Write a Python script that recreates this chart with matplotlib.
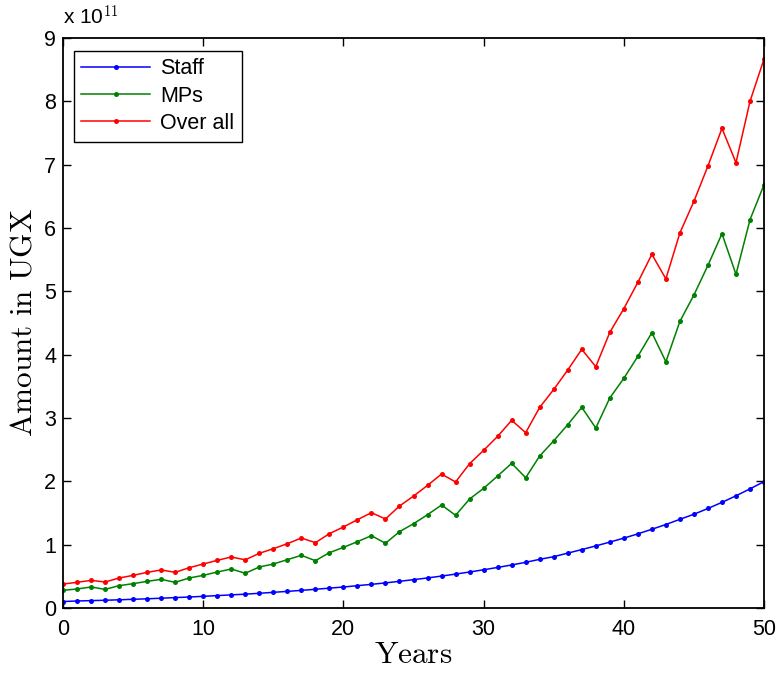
import matplotlib
matplotlib.use("Agg")
import matplotlib.pyplot as plt

# Data (values in units of 1e11 UGX)
years = list(range(0, 51))

staff = [0.102, 0.110, 0.116, 0.122, 0.129, 0.137, 0.145, 0.154, 0.164, 0.173,
         0.184, 0.195, 0.207, 0.218, 0.232, 0.247, 0.262, 0.278, 0.295, 0.313,
         0.331, 0.352, 0.373, 0.396, 0.421, 0.447, 0.474, 0.504, 0.535, 0.568,
         0.603, 0.640, 0.679, 0.721, 0.768, 0.810, 0.866, 0.922, 0.980, 1.040,
         1.103, 1.170, 1.243, 1.318, 1.400, 1.480, 1.571, 1.668, 1.771, 1.881,
         1.995]

mps = [0.278, 0.300, 0.331, 0.294, 0.352, 0.384, 0.420, 0.452, 0.405, 0.473,
       0.515, 0.568, 0.615, 0.548, 0.647, 0.694, 0.763, 0.831, 0.747, 0.873,
       0.957, 1.047, 1.142, 1.021, 1.205, 1.330, 1.473, 1.626, 1.463, 1.721,
       1.889, 2.084, 2.284, 2.057, 2.400, 2.640, 2.894, 3.168, 2.842, 3.316,
       3.626, 3.973, 4.347, 3.887, 4.526, 4.942, 5.410, 5.910, 5.268, 6.131,
       6.684]

overall = [0.378, 0.405, 0.436, 0.410, 0.473, 0.515, 0.563, 0.600, 0.563, 0.636,
           0.694, 0.752, 0.805, 0.760, 0.863, 0.936, 1.015, 1.105, 1.031, 1.173,
           1.279, 1.394, 1.505, 1.405, 1.610, 1.766, 1.936, 2.115, 1.989, 2.279,
           2.489, 2.710, 2.963, 2.768, 3.168, 3.450, 3.758, 4.084, 3.810, 4.352,
           4.726, 5.142, 5.584, 5.197, 5.923, 6.421, 6.979, 7.573, 7.031, 8.000,
           8.668]

labels = ["Staff", "MPs", "Over all"]
colors = ["#0000ff", "#008000", "#ff0000"]
xticks = [0, 10, 20, 30, 40, 50]
yticks = list(range(0, 10))

plt.rcParams['mathtext.fontset'] = 'cm'
plt.rcParams['font.family'] = ['Liberation Sans', 'DejaVu Sans']

fig = plt.figure(figsize=(7.77, 6.75), dpi=100)
ax = fig.add_axes([0.0811, 0.0993, 0.9022, 0.8444])

for series, lab, col in zip([staff, mps, overall], labels, colors):
    ax.plot(years, series, color=col, lw=1.1, marker='o', ms=3.6,
            markeredgewidth=0, label=lab)

ax.set_xlim(0, 50)
ax.set_ylim(0, 9)
ax.set_xticks(xticks)
ax.set_yticks(yticks)
ax.tick_params(direction='in', length=6, width=1.0, top=True, right=True,
               labelsize=15.5)
ax.tick_params(axis='x', pad=8)
ax.tick_params(axis='y', pad=5)
for s in ax.spines.values():
    s.set_linewidth(1.3)

ax.set_xlabel(r'$\mathrm{Years}$', fontsize=22.5, labelpad=0)
ax.set_ylabel(r'$\mathrm{Amount\ in\ UGX}$', fontsize=22.5, labelpad=4)

fig.text(0.0811, 0.958, r'x 10$^{11}$', fontsize=15, ha='left', va='bottom')

leg = ax.legend(loc='upper left', bbox_to_anchor=(0.0155, 0.978), fontsize=15.5,
                frameon=True, fancybox=False, edgecolor='black', framealpha=1,
                handlelength=3.2, handletextpad=0.45, borderpad=0.35,
                borderaxespad=0, labelspacing=0.3)
leg.get_frame().set_linewidth(1.0)

fig.savefig("out.png", dpi=100)
